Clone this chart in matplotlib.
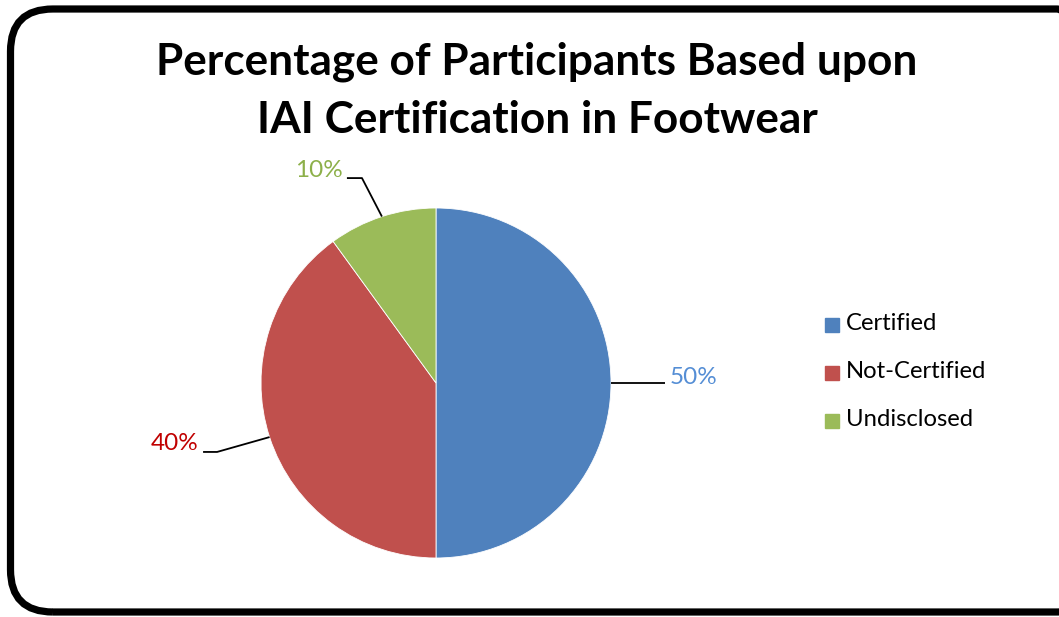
import numpy as np
import matplotlib
matplotlib.use("Agg")
import matplotlib.pyplot as plt
from matplotlib.patches import FancyBboxPatch

categories = ["Certified", "Not-Certified", "Undisclosed"]
values = [50, 40, 10]
colors = ["#4F81BD", "#C0504D", "#9BBB59"]
label_colors = ["#558ED5", "#C00000", "#8DB04A"]
title_lines = ["Percentage of Participants Based upon",
               "IAI Certification in Footwear"]

W, H = 1059, 617
fig = plt.figure(figsize=(W / 100, H / 100), dpi=100)
plt.rcParams['font.family'] = ['Lato', 'DejaVu Sans']

# rounded border
box = FancyBboxPatch((10.5 / W, 5 / H), (W + 30) / W, (612 - 9) / H,
                     boxstyle="round,pad=0,rounding_size=0.04",
                     transform=fig.transFigure, fill=False,
                     linewidth=5.2, edgecolor="black", mutation_aspect=W / H)
fig.patches.append(box)

for line, y in zip(title_lines, [62, 120]):
    fig.text(537 / W, 1 - y / H, line, ha="center", va="center",
             fontsize=31.8, fontweight="bold")

# pie axes: centre (436, 383), radius 175 px
cx, cy, r = 436, 383, 175
ax = fig.add_axes([(cx - r) / W, (H - cy - r) / H, 2 * r / W, 2 * r / H])
wedges, _ = ax.pie(values, colors=colors, startangle=90, counterclock=False,
                   radius=1, wedgeprops=dict(linewidth=0.6, edgecolor="white"))
ax.set_xlim(-1, 1)
ax.set_ylim(-1, 1)
ax.set_aspect("equal")
ax.axis("off")

# callouts: elbow and end points of the leader lines (axes data units)
callouts = [
    dict(elbow=(1.0, 0.0), end=(1.31, 0.0), ha="left", dy=0.03),
    dict(elbow=(-1.251, -0.394), end=(-1.331, -0.394), ha="right", dy=0.05),
    dict(elbow=(-0.423, 1.171), end=(-0.509, 1.171), ha="right", dy=0.045),
]
for w, v, c, lc in zip(wedges, values, callouts, label_colors):
    ang = np.deg2rad((w.theta1 + w.theta2) / 2)
    ax_, ay_ = np.cos(ang), np.sin(ang)
    ex, ey = c["elbow"]
    tx, ty = c["end"]
    ax.plot([ax_, ex, tx], [ay_, ey, ty], color="black", lw=1.3,
            clip_on=False, solid_capstyle="butt")
    off = 0.025 if c["ha"] == "left" else -0.025
    ax.text(tx + off, ty + c["dy"], f"{v}%", color=lc, fontsize=17.5,
            ha=c["ha"], va="center")

# legend
leg_y = [324, 372, 420]
for cat, col, y in zip(categories, colors, leg_y):
    fig.patches.append(plt.Rectangle((825 / W, 1 - (y + 7.5) / H), 14 / W, 14 / H,
                                     transform=fig.transFigure, color=col))
    fig.text(846 / W, 1 - y / H, cat, fontsize=17.2, va="center", ha="left")

fig.savefig("out.png", dpi=100)
